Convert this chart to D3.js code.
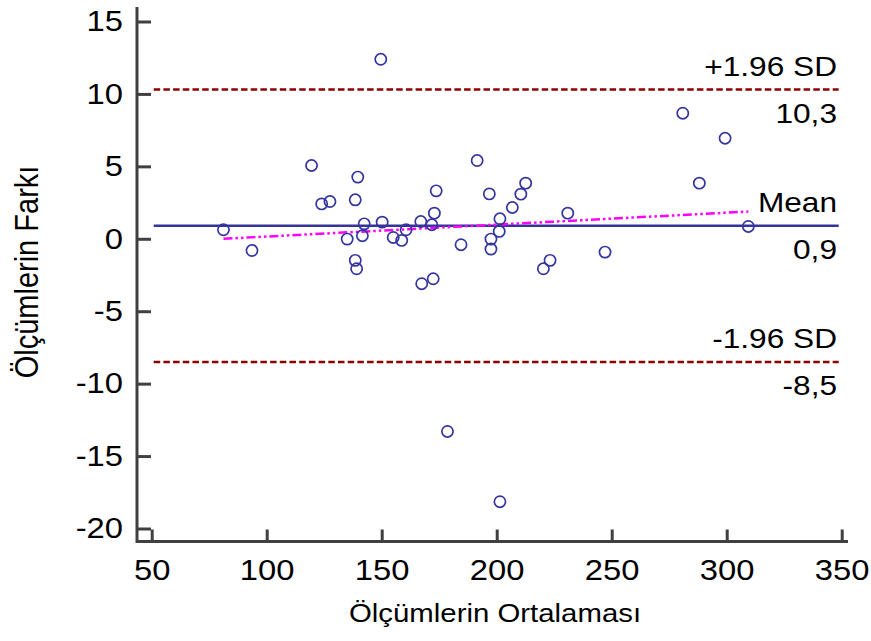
<!DOCTYPE html>
<html>
<head>
<meta charset="utf-8">
<script src="https://cdn.jsdelivr.net/npm/d3@7"></script>
<style>
  html, body { margin: 0; padding: 0; background: #fff; }
  svg { display: block; }
  text { font-family: "Liberation Sans", Arial, sans-serif; fill: #000; }
</style>
</head>
<body>
<svg id="chart" width="871" height="641"></svg>
<script>
// ---- data ----
const avgValues = [81.2, 93.6, 119.5, 123.9, 127.5, 139.6, 138.5, 142.4, 150.2, 135.0,
  141.6, 138.5, 139.1, 155.0, 158.7, 160.6, 167.0, 171.8, 172.9, 173.7,
  184.5, 167.4, 172.4, 191.5, 196.8, 197.5, 197.5, 201.1, 201.4, 206.8,
  210.5, 212.6, 220.3, 223.2, 230.9, 247.1, 288.1, 309.4, 280.9, 299.3,
  149.6, 178.6, 201.4];
const diffValues = [0.62, -0.81, 5.06, 2.41, 2.57, 4.26, 2.69, 1.03, 1.15, -0.02,
  0.21, -1.49, -2.07, 0.09, -0.11, 0.62, 1.19, 0.97, 1.77, 3.31,
  -0.41, -3.10, -2.76, 5.40, 3.10, -0.02, -0.71, 0.51, 1.38, 2.16,
  3.08, 3.84, -2.07, -1.49, 1.77, -0.92, 3.84, 0.85, 8.67, 6.94,
  12.39, -13.3, -18.15];
const meanDiff = 0.9;
const upperLoA = 10.3;
const lowerLoA = -8.5;
const regIntercept = -0.669;
const regSlope = 0.00824;
const xTicks = [50, 100, 150, 200, 250, 300, 350];
const yTicks = [-20, -15, -10, -5, 0, 5, 10, 15];
const refLines = [
  { value: upperLoA, name: "+1.96 SD", kind: "sd" },
  { value: meanDiff, name: "Mean", kind: "mean" },
  { value: lowerLoA, name: "-1.96 SD", kind: "sd" }
];
const xTitle = "Ölçümlerin Ortalaması";
const yTitle = "Ölçümlerin Farkı";

// ---- layout ----
const svg = d3.select("#chart");
const SX = 1.13; // horizontal stretch of glyphs seen in reference
const x = d3.scaleLinear().domain([50, 350]).range([151.7, 841.7]);
const y = d3.scaleLinear().domain([-20, 15]).range([528.5, 21.5]);
const axisLeftX = 137, axisBottomY = 541.5, axisTopY = 7, axisRightX = 848;
const axisColor = "#404040";
const fmt = v => v.toFixed(1).replace(".", ",");
const tickFmt = v => String(v);

svg.append("rect").attr("width", 871).attr("height", 641).attr("fill", "#fff");

// axis frame (L shape)
svg.append("path")
  .attr("d", `M${axisLeftX},${axisTopY}V${axisBottomY}H${axisRightX}`)
  .attr("fill", "none").attr("stroke", axisColor).attr("stroke-width", 3);

// y axis
const gy = svg.append("g").attr("transform", `translate(${axisLeftX},0)`)
  .call(d3.axisLeft(y).tickValues(yTicks).tickFormat(tickFmt)
    .tickSizeInner(-14).tickSizeOuter(0).tickPadding(14));
gy.select(".domain").remove();
gy.selectAll(".tick line").attr("stroke", axisColor).attr("stroke-width", 3);
gy.selectAll(".tick text")
  .attr("font-size", 29).attr("font-family", "Liberation Sans, Arial, sans-serif")
  .attr("fill", "#000")
  .each(function () {
    const t = d3.select(this);
    const xx = +t.attr("x");
    t.attr("x", 0).attr("transform", `translate(${xx},0) scale(${SX},1)`);
  });

// x axis
const gx = svg.append("g").attr("transform", `translate(0,${axisBottomY})`)
  .call(d3.axisBottom(x).tickValues(xTicks).tickFormat(tickFmt)
    .tickSizeInner(-12).tickSizeOuter(0).tickPadding(18));
gx.select(".domain").remove();
gx.selectAll(".tick line").attr("stroke", axisColor).attr("stroke-width", 3);
gx.selectAll(".tick text")
  .attr("font-size", 29).attr("font-family", "Liberation Sans, Arial, sans-serif")
  .attr("fill", "#000")
  .each(function () {
    const t = d3.select(this);
    const yy = +t.attr("y");
    t.attr("y", 0).attr("transform", `translate(0,${yy}) scale(${SX},1)`);
  });

// axis titles
svg.append("text")
  .attr("transform", `translate(495,622) scale(${SX},1)`)
  .attr("text-anchor", "middle").attr("font-size", 26)
  .text(xTitle);
svg.append("text")
  .attr("transform", `translate(38,272) rotate(-90) scale(1,${SX})`)
  .attr("text-anchor", "middle").attr("font-size", 29)
  .text(yTitle);

// reference lines
const lineX0 = x(50) + 2, lineX1 = x(350) - 3;
refLines.forEach(r => {
  svg.append("line")
    .attr("x1", lineX0).attr("x2", lineX1)
    .attr("y1", y(r.value)).attr("y2", y(r.value))
    .attr("stroke", r.kind === "mean" ? "#333399" : "#8b0000")
    .attr("stroke-width", 2.5)
    .attr("stroke-dasharray", r.kind === "mean" ? null : "6.5,3.2");
  svg.append("text")
    .attr("transform", `translate(837,${y(r.value) - 14}) scale(${SX},1)`)
    .attr("text-anchor", "end").attr("font-size", 28)
    .text(r.name);
  svg.append("text")
    .attr("transform", `translate(837,${y(r.value) + 33}) scale(${SX},1)`)
    .attr("text-anchor", "end").attr("font-size", 28)
    .text(fmt(r.value));
});

// regression line of differences on averages
const xr = d3.extent(avgValues);
svg.append("line")
  .attr("x1", x(xr[0])).attr("x2", x(xr[1]))
  .attr("y1", y(regIntercept + regSlope * xr[0]))
  .attr("y2", y(regIntercept + regSlope * xr[1]))
  .attr("stroke", "#ff00ff").attr("stroke-width", 2.5)
  .attr("stroke-dasharray", "9,3,2.5,3,2.5,3");

// points
svg.append("g").selectAll("circle")
  .data(avgValues.map((a, i) => ({ a, d: diffValues[i] })))
  .join("circle")
  .attr("cx", p => x(p.a)).attr("cy", p => y(p.d))
  .attr("r", 5.6)
  .attr("fill", "none").attr("stroke", "#35359f").attr("stroke-width", 1.7);
</script>
</body>
</html>
